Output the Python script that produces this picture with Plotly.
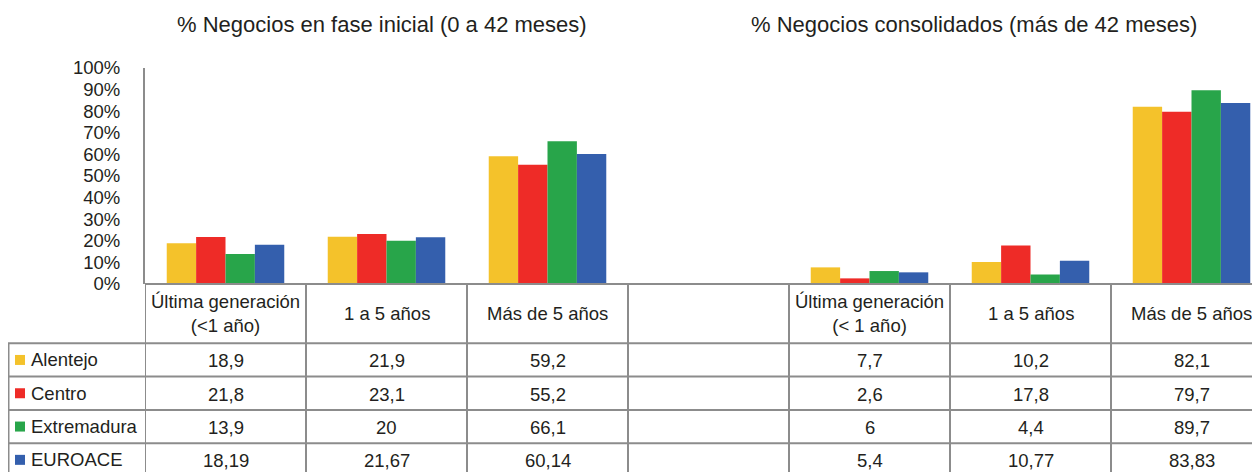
import plotly.graph_objects as go

# ---------------- data ----------------
categories = ["Última generación<br>(&lt;1 año)", "1 a 5 años", "Más de 5 años", "",
              "Última generación<br>(&lt; 1 año)", "1 a 5 años", "Más de 5 años"]
series_names = ["Alentejo", "Centro", "Extremadura", "EUROACE"]
alentejo = [18.9, 21.9, 59.2, None, 7.7, 10.2, 82.1]
centro = [21.8, 23.1, 55.2, None, 2.6, 17.8, 79.7]
extremadura = [13.9, 20, 66.1, None, 6, 4.4, 89.7]
euroace = [18.19, 21.67, 60.14, None, 5.4, 10.77, 83.83]
table_text = {
    "Alentejo": ["18,9", "21,9", "59,2", "", "7,7", "10,2", "82,1"],
    "Centro": ["21,8", "23,1", "55,2", "", "2,6", "17,8", "79,7"],
    "Extremadura": ["13,9", "20", "66,1", "", "6", "4,4", "89,7"],
    "EUROACE": ["18,19", "21,67", "60,14", "", "5,4", "10,77", "83,83"],
}
titles = ["% Negocios en fase inicial (0 a 42 meses)", "% Negocios consolidados (más de 42 meses)"]
y_ticks = [0, 10, 20, 30, 40, 50, 60, 70, 80, 90, 100]
y_tick_labels = [f"{v}%" for v in y_ticks]

colors = ["#F4C22B", "#EE2B27", "#28A54A", "#345FAD"]
series_values = [alentejo, centro, extremadura, euroace]

# ---------------- layout geometry (pixels, screen coords) ----------------
OFF = 8                 # page body margin
W, H = 1260 - OFF, 472 - OFF
L, T = 145 - OFF, 68 - OFF
AXIS_Y = 284 - OFF
R = 0
plot_w = W - L - R
plot_h = AXIS_Y - T
col_w = 161.0
FONT = "Liberation Sans, Arial, sans-serif"
TXT = "#231f20"
GRID = "#8c8c8c"
FS = 18.5

def px(xscreen):
    return (xscreen - OFF - L) / plot_w

def py(yscreen):
    return (AXIS_Y - (yscreen - OFF)) / plot_h

xpos = list(range(len(categories)))

fig = go.Figure()
for name, vals, col in zip(series_names, series_values, colors):
    fig.add_trace(go.Bar(x=xpos, y=vals, name=name, marker=dict(color=col, line=dict(width=0)),
                         hoverinfo="skip"))

x_range = [-0.5, -0.5 + plot_w / col_w]

fig.update_layout(
    width=W, height=H,
    margin=dict(l=L, r=R, t=T, b=H - AXIS_Y, pad=0),
    paper_bgcolor="white", plot_bgcolor="white",
    barmode="group", bargap=0.27, bargroupgap=0,
    showlegend=False,
    font=dict(family=FONT, size=FS, color=TXT),
    xaxis=dict(range=x_range, showticklabels=False, showgrid=False, zeroline=False,
               showline=False, ticks=""),
    yaxis=dict(range=[0, 100], tickvals=y_ticks, ticktext=y_tick_labels, showgrid=False,
               zeroline=False, showline=True, linecolor=GRID, linewidth=2, ticks="",
               ticklabelstandoff=19, tickfont=dict(size=FS, color=TXT)),
)

shapes = []
ann = []
line = dict(color=GRID, width=2)

# x axis line
shapes.append(dict(type="line", xref="paper", yref="paper", x0=0, x1=1, y0=0, y1=0, line=line))

# table rows (screen pixel rows)
header_bottom = 343.3
row_h = 33.3
row_tops = [header_bottom + i * row_h for i in range(len(series_names))]
for yt in row_tops:
    shapes.append(dict(type="line", xref="paper", yref="paper", x0=px(8), x1=1,
                       y0=py(yt), y1=py(yt), line=line))
for k in range(len(categories)):
    xb = k - 0.5
    shapes.append(dict(type="line", xref="x", yref="paper", x0=xb, x1=xb,
                       y0=0, y1=py(480), line=line))
shapes.append(dict(type="line", xref="paper", yref="paper", x0=px(8.5), x1=px(8.5),
                   y0=py(header_bottom), y1=py(480), line=line))

# header texts
for k, cat in enumerate(categories):
    if cat:
        ann.append(dict(x=k, y=py((284 + header_bottom) / 2), xref="x", yref="paper",
                        text=cat, showarrow=False, xanchor="center", yanchor="middle",
                        font=dict(size=FS, color=TXT)))

# legend + values
for i, (name, col) in enumerate(zip(series_names, colors)):
    yc = row_tops[i] + row_h / 2
    shapes.append(dict(type="rect", xref="paper", yref="paper", x0=px(15), x1=px(25),
                       y0=py(yc + 5), y1=py(yc - 5), fillcolor=col, line=dict(width=0)))
    ann.append(dict(x=px(29), y=py(yc), xref="paper", yref="paper", text=name,
                    showarrow=False, xanchor="left", yanchor="middle",
                    font=dict(size=FS, color=TXT)))
    for k, t in enumerate(table_text[name]):
        if t:
            ann.append(dict(x=k, y=py(yc + 1), xref="x", yref="paper", text=t,
                            showarrow=False, xanchor="center", yanchor="middle",
                            font=dict(size=FS, color=TXT)))

# titles
ann.append(dict(x=px(382), y=py(24), xref="paper", yref="paper", text=titles[0], showarrow=False,
                xanchor="center", yanchor="middle", font=dict(size=22, color=TXT)))
ann.append(dict(x=px(974), y=py(24), xref="paper", yref="paper", text=titles[1], showarrow=False,
                xanchor="center", yanchor="middle", font=dict(size=22, color=TXT)))

fig.update_layout(shapes=shapes, annotations=ann)
fig.write_html("out.html")
